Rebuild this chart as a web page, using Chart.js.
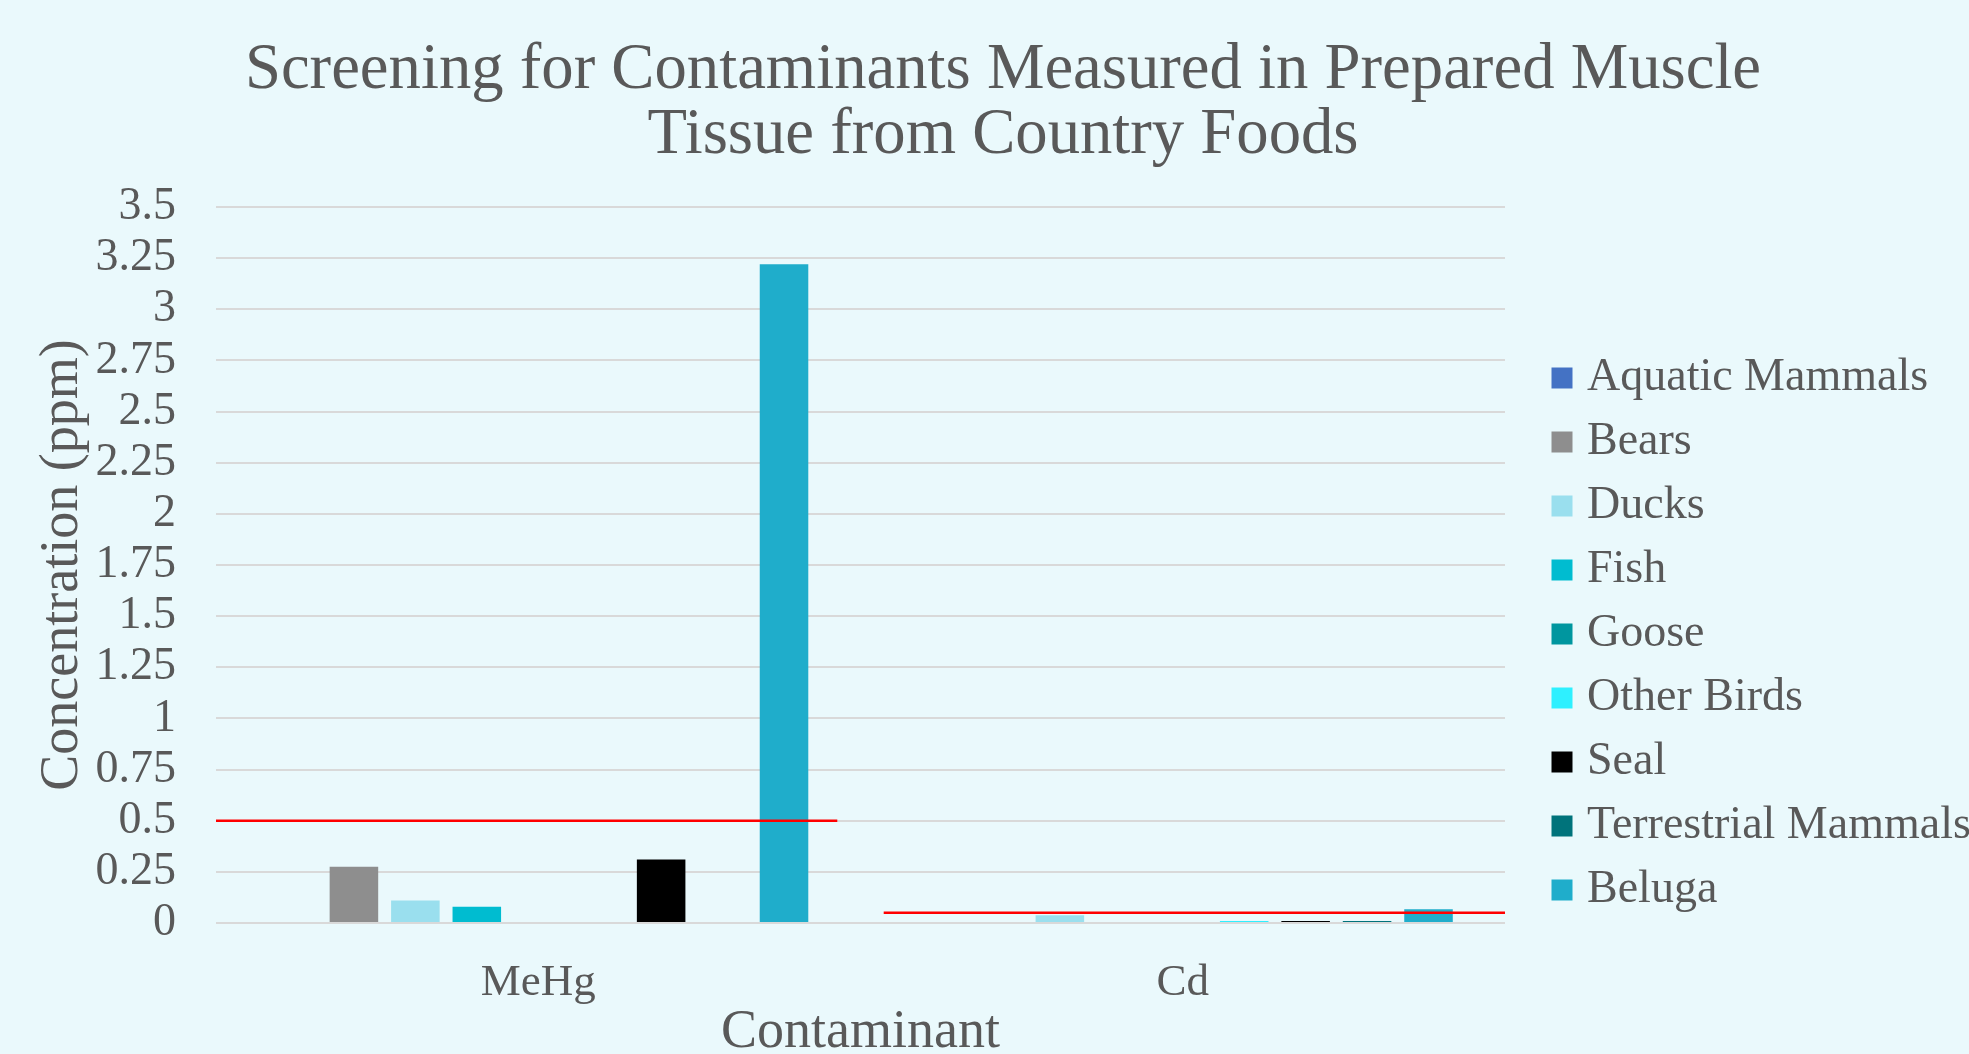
<!DOCTYPE html>
<html>
<head>
<meta charset="utf-8">
<title>Screening for Contaminants</title>
<script src="https://cdn.jsdelivr.net/npm/chart.js@4/dist/chart.umd.min.js"></script>
<style>
  html, body { margin: 0; padding: 0; background: #eaf9fc; }
  canvas { display: block; }
</style>
</head>
<body>
<canvas id="chart" width="1969" height="1054"></canvas>
<script>
// Contaminant categories on the x axis
const contaminants = ['MeHg', 'Cd'];

// Food groups (one bar series each)
const foodGroups = ['Aquatic Mammals', 'Bears', 'Ducks', 'Fish', 'Goose',
                    'Other Birds', 'Seal', 'Terrestrial Mammals', 'Beluga'];

// Mean concentration (ppm) per contaminant: [MeHg, Cd]; null = not measured
const aquaticMammals     = [null, null];
const bears              = [0.275, null];
const ducks              = [0.11, 0.038];
const fish               = [0.08, null];
const goose              = [null, null];
const otherBirds         = [null, 0.01];
const seal               = [0.31, 0.01];
const terrestrialMammals = [null, 0.01];
const beluga             = [3.22, 0.067];

// Screening guideline values (ppm): [MeHg, Cd]
const guidelines = [0.5, 0.05];

// y axis tick labels
const yTickLabels = ['0', '0.25', '0.5', '0.75', '1', '1.25', '1.5', '1.75',
                     '2', '2.25', '2.5', '2.75', '3', '3.25', '3.5'];

const seriesValues = [aquaticMammals, bears, ducks, fish, goose,
                      otherBirds, seal, terrestrialMammals, beluga];
const seriesColors = ['#4472c4', '#8e8e8e', '#9adfee', '#00bcd0', '#00969f',
                      '#2ef0ff', '#000000', '#00737b', '#1fadcb'];

// Part of each category's width covered by its guideline (0 = left edge, 1 = right edge)
const guideSpans = [[0, 0.964], [0.036, 1]];

const FONT = 'Liberation Serif';
const TEXT = '#595959';
Chart.defaults.font.family = FONT;
Chart.defaults.color = TEXT;

// Red guideline segments, placed with the chart's own x and y scales
const guidelinePlugin = {
  id: 'guidelines',
  afterDatasetsDraw(chart) {
    const { ctx, scales: { x, y } } = chart;
    ctx.save();
    ctx.strokeStyle = '#ff0000';
    ctx.lineWidth = 2.5;
    guidelines.forEach((v, i) => {
      const py = y.getPixelForValue(v);
      const x0 = x.getPixelForValue(i - 0.5 + guideSpans[i][0]);
      const x1 = x.getPixelForValue(i - 0.5 + guideSpans[i][1]);
      ctx.beginPath();
      ctx.moveTo(x0, py);
      ctx.lineTo(x1, py);
      ctx.stroke();
    });
    ctx.restore();
  }
};

const barSets = foodGroups.map((name, i) => ({
  label: name,
  data: seriesValues[i],
  backgroundColor: seriesColors[i],
  borderWidth: 0
}));

new Chart(document.getElementById('chart'), {
  type: 'bar',
  data: { labels: contaminants, datasets: barSets },
  plugins: [guidelinePlugin],
  options: {
    responsive: false,
    animation: false,
    devicePixelRatio: 1,
    layout: { padding: { left: 37, right: 0, top: 0, bottom: 0 } },
    datasets: { bar: { categoryPercentage: 0.858, barPercentage: 0.79 } },
    plugins: {
      tooltip: { enabled: false },
      title: {
        display: true,
        text: ['Screening for Contaminants Measured in Prepared Muscle',
               'Tissue from Country Foods'],
        color: TEXT,
        font: { family: FONT, size: 64.7, weight: 'normal', lineHeight: 65 / 64.7 },
        padding: { top: 38.5, bottom: 38.5 }
      },
      legend: {
        position: 'right',
        align: 'start',
        fullSize: true,
        maxWidth: 427,
        title: {
          display: true,
          text: ' ',
          font: { size: 10, lineHeight: 1 },
          padding: { top: 327, bottom: 0 }
        },
        labels: {
          color: TEXT,
          font: { family: FONT, size: 46 },
          padding: 18,
          usePointStyle: true,
          pointStyle: 'rect',
          boxWidth: 4,
          boxHeight: 21
        }
      }
    },
    scales: {
      x: {
        type: 'category',
        grid: { display: false },
        border: { display: false },
        ticks: { color: TEXT, font: { family: FONT, size: 45 }, padding: 25 },
        title: {
          display: true, text: 'Contaminant', color: TEXT,
          font: { family: FONT, size: 54, lineHeight: 0.8 }, padding: 0
        },
        afterFit: s => { s.height = 131; }
      },
      y: {
        min: 0,
        max: 3.5,
        grid: { color: '#d9d9d9', lineWidth: 2, drawTicks: false },
        border: { display: false },
        ticks: {
          stepSize: 0.25,
          maxTicksLimit: 20,
          autoSkip: false,
          padding: 40,
          color: TEXT,
          font: { family: FONT, size: 46 },
          callback: (v, i) => yTickLabels[i]
        },
        title: {
          display: true, text: 'Concentration (ppm)', color: TEXT,
          font: { family: FONT, size: 54, lineHeight: 0.8 },
          padding: { top: 4, bottom: 0 }
        },
        afterFit: s => { s.width = 179; }
      },
      // spacer between the plot area and the legend
      yGap: {
        type: 'linear', position: 'right', display: false,
        afterFit: s => { s.width = 37; }
      }
    }
  }
});
</script>
</body>
</html>
